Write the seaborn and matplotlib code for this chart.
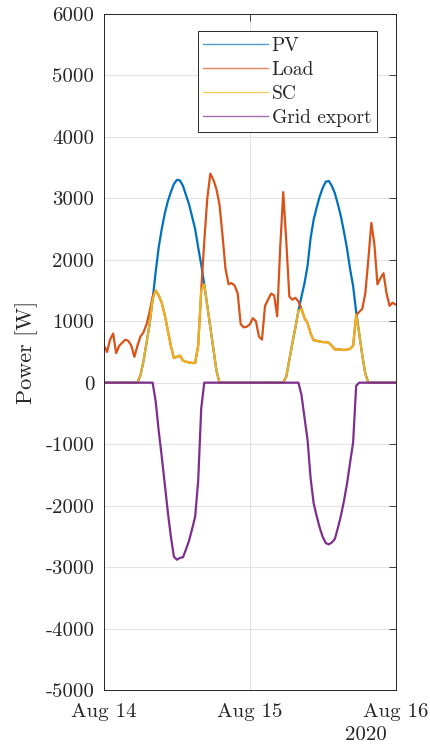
import numpy as np
import pandas as pd
import matplotlib
matplotlib.use("Agg")
import matplotlib.pyplot as plt
import seaborn as sns

# half-hourly readings, Aug 14 00:00 -> Aug 16 00:00 (97 points)
pv = [
    0, 0, 0, 0, 0, 0, 0, 0, 0, 0, 0, 0,              # 00:00-05:30
    120, 350, 650, 950, 1350, 1800, 2200, 2500,      # 06:00-09:30
    2750, 2950, 3100, 3230, 3300, 3290, 3200, 3050,  # 10:00-13:30
    2900, 2700, 2500, 2200, 1920, 1600, 1250, 900,   # 14:00-17:30
    550, 200, 0, 0, 0, 0, 0, 0, 0, 0, 0, 0,          # 18:00-23:30
    0, 0, 0, 0, 0, 0, 0, 0, 0, 0, 0, 0,              # Aug 15 00:00-05:30
    100, 370, 640, 900, 1170, 1400, 1620, 1900,      # 06:00-09:30
    2350, 2650, 2850, 3030, 3170, 3270, 3280, 3200,  # 10:00-13:30
    3080, 2900, 2700, 2450, 2180, 1850, 1570, 1150,  # 14:00-17:30
    800, 450, 150, 0, 0, 0, 0, 0, 0, 0, 0, 0,        # 18:00-23:30
    0,                                               # Aug 16 00:00
]
load = [
    600, 500, 700, 800, 480, 600, 650, 700, 680, 600, 420, 600,
    750, 820, 950, 1150, 1400, 1500, 1420, 1300, 1100, 850, 600, 400,
    420, 440, 360, 340, 330, 320, 320, 600, 1500, 2300, 3000, 3400,
    3300, 3150, 2900, 2400, 1850, 1600, 1620, 1580, 1450, 950, 900, 910,
    950, 1050, 1000, 750, 700, 1250, 1350, 1450, 1420, 1080, 2200, 3100,
    2300, 1400, 1350, 1380, 1320, 1200, 1050, 970, 800, 690, 680, 670,
    660, 660, 650, 600, 540, 540, 540, 530, 540, 550, 600, 1100,
    1150, 1200, 1450, 2000, 2600, 2250, 1600, 1700, 1780, 1450, 1250, 1300,
    1270,
]
pv = np.array(pv, dtype=float)
load = np.array(load, dtype=float)
sc = np.minimum(pv, load)          # self-consumption
grid = -(pv - sc)                  # export shown as negative

time = pd.date_range("2020-08-14 00:00", periods=len(pv), freq="30min")
series_names = ["PV", "Load", "SC", "Grid export"]
colors = ["#0072BD", "#D95319", "#EDB120", "#7E2F8E"]
yticks = list(range(-5000, 6001, 1000))
xtick_labels = ["Aug 14", "Aug 15", "Aug 16"]

df = pd.concat([
    pd.DataFrame({"time": time, "power": v, "series": n})
    for n, v in zip(series_names, [pv, load, sc, grid])
])

sns.set_theme(style="white")
plt.rcParams["font.family"] = "serif"
plt.rcParams["font.serif"] = ["cmr10", "DejaVu Serif"]
plt.rcParams["axes.unicode_minus"] = False

fig = plt.figure(figsize=(4.31, 7.48), dpi=100)
ax = fig.add_axes([0.2413, 0.0775, 0.6767, 0.904])

sns.lineplot(data=df, x="time", y="power", hue="series", hue_order=series_names,
             palette=dict(zip(series_names, colors)), estimator=None, sort=False,
             linewidth=1.6, ax=ax)

ax.set_ylim(-5000, 6000)
ax.set_yticks(yticks)
ax.set_yticklabels([str(v) for v in yticks])
ticks = pd.to_datetime(["2020-08-14", "2020-08-15", "2020-08-16"])
ax.set_xlim(ticks[0], ticks[-1])
ax.set_xticks(ticks)
ax.set_xticklabels(xtick_labels)
ax.set_xlabel("")
ax.set_ylabel("Power [W]", fontsize=16, color="#262626", labelpad=5)
ax.text(0.898, -0.067, "2020", transform=ax.transAxes, ha="center", va="center",
        fontsize=15, color="#262626")

ax.grid(True, color="#e3e3e3", linewidth=0.8)
ax.tick_params(direction="in", length=5, width=0.6, top=True, right=True,
               labelsize=15, colors="#262626")
ax.tick_params(axis="y", pad=7)
ax.tick_params(axis="x", pad=9)
for s in ax.spines.values():
    s.set_color("#262626")
    s.set_linewidth(0.7)

leg = ax.legend(loc="upper right", bbox_to_anchor=(0.936, 0.974), borderaxespad=0,
                fancybox=False, framealpha=1, edgecolor="#262626", fontsize=14,
                handlelength=3.3, handletextpad=0.2, labelspacing=0.3, borderpad=0.3)
leg.get_frame().set_linewidth(0.7)
for h in leg.get_lines():
    h.set_linewidth(1.0)
    h.set_alpha(0.7)

fig.savefig("out.png", dpi=100)
